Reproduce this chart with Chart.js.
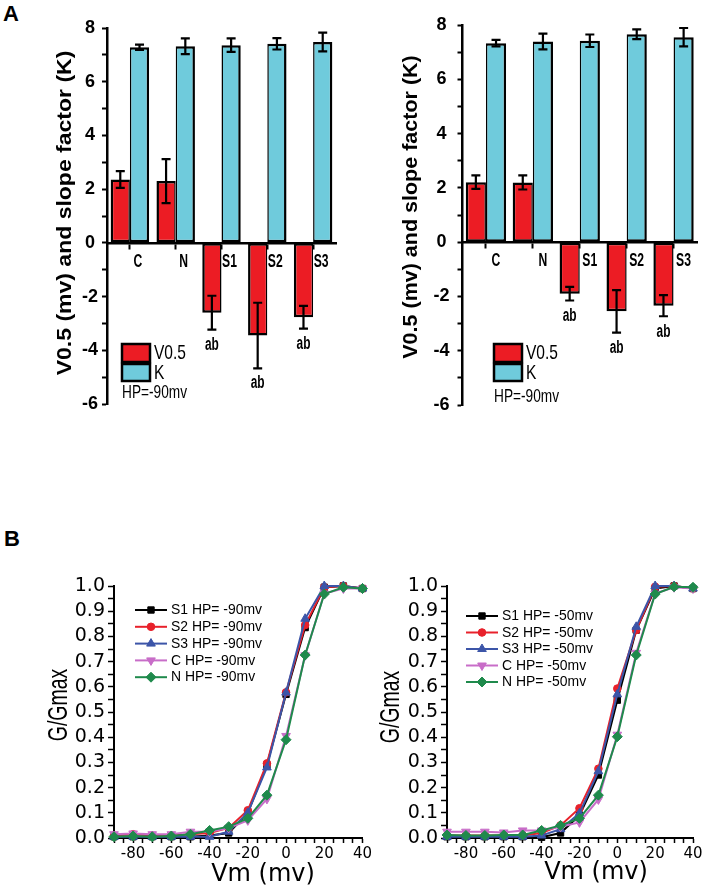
<!DOCTYPE html>
<html><head><meta charset="utf-8">
<script src="https://cdn.jsdelivr.net/npm/chart.js@4.4.1/dist/chart.umd.min.js"></script>
<style>
html,body{margin:0;padding:0;background:#fff;}
#wrap{position:relative;width:705px;height:894px;overflow:hidden;background:#fff;}
canvas{position:absolute;}
.pl{position:absolute;font:bold 22px "Liberation Sans",Arial,sans-serif;line-height:1;color:#000;}
</style></head><body>
<div id="wrap">
<div class="pl" style="left:3px;top:3px">A</div>
<div class="pl" style="left:4px;top:528px">B</div>
<canvas id="a1" width="355" height="460" style="left:0;top:0"></canvas>
<canvas id="a2" width="350" height="460" style="left:355px;top:0"></canvas>
<canvas id="b1" width="375" height="334" style="left:0;top:560px"></canvas>
<canvas id="b2" width="333" height="334" style="left:372px;top:560px"></canvas>
</div>
<script>
// ---------- DATA ----------
const groups = ['C', 'N', 'S1', 'S2', 'S3'];
const sigMarks = ['', '', 'ab', 'ab', 'ab'];

// Panel A, left
const leftV05 = [2.36, 2.30, -2.60, -3.45, -2.77];
const leftV05Err = [0.31, 0.82, 0.63, 1.22, 0.42];
const leftK = [7.28, 7.32, 7.36, 7.41, 7.48];
const leftKErr = [0.10, 0.29, 0.25, 0.21, 0.35];

// Panel A, right
const rightV05 = [2.21, 2.20, -1.90, -2.55, -2.34];
const rightV05Err = [0.25, 0.26, 0.25, 0.78, 0.39];
const rightK = [7.33, 7.39, 7.42, 7.66, 7.55];
const rightKErr = [0.12, 0.29, 0.23, 0.18, 0.34];

const yTicksA = [-6, -4, -2, 0, 2, 4, 6, 8];

// Panel B
const voltages = [-90, -80, -70, -60, -50, -40, -30, -20, -10, 0, 10, 20, 30, 40];
const xTickLabelsB = [-80, -60, -40, -20, 0, 20, 40];

// HP = -90 mV
const hp90S1 = [0.005, 0.005, 0.005, 0.005, 0.005, 0.01, 0.02, 0.10, 0.29, 0.57, 0.835, 0.995, 1.0, 0.99];
const hp90S2 = [0.01, 0.015, 0.01, 0.01, 0.015, 0.02, 0.04, 0.11, 0.296, 0.578, 0.845, 0.995, 1.0, 0.99];
const hp90S3 = [0.005, 0.005, 0.005, 0.005, 0.005, 0.005, 0.025, 0.10, 0.28, 0.577, 0.87, 1.0, 1.0, 0.99];
const hp90C  = [0.015, 0.018, 0.015, 0.015, 0.025, 0.025, 0.04, 0.07, 0.155, 0.405, 0.725, 0.97, 0.99, 0.99];
const hp90N  = [0.005, 0.008, 0.005, 0.008, 0.015, 0.03, 0.045, 0.078, 0.17, 0.39, 0.726, 0.968, 0.995, 0.99];

// HP = -50 mV
const hp50S1 = [0.005, 0.005, 0.005, 0.005, 0.005, 0.003, 0.02, 0.09, 0.25, 0.547, 0.825, 0.99, 1.0, 0.99];
const hp50S2 = [0.01, 0.01, 0.01, 0.01, 0.01, 0.02, 0.05, 0.118, 0.275, 0.593, 0.825, 0.997, 1.0, 0.99];
const hp50S3 = [0.005, 0.005, 0.005, 0.005, 0.005, 0.01, 0.035, 0.098, 0.265, 0.57, 0.838, 1.0, 1.0, 0.99];
const hp50C  = [0.025, 0.025, 0.025, 0.022, 0.03, 0.03, 0.045, 0.062, 0.153, 0.41, 0.735, 0.97, 0.995, 0.99];
const hp50N  = [0.012, 0.01, 0.01, 0.012, 0.012, 0.03, 0.05, 0.078, 0.17, 0.402, 0.726, 0.968, 0.997, 0.995];

// ---------- STYLE ----------
const FONT = '"Liberation Sans", Arial, Helvetica, sans-serif';
const DJ = '"DejaVu Sans", Verdana, sans-serif';
const RED = '#ec1c24';
const CYAN = '#6fcbdc';
Chart.defaults.font.family = FONT;
Chart.defaults.color = '#000';

function txt(ctx, s, x, y, o) {
  ctx.save();
  ctx.translate(x, y);
  if (o.rot) ctx.rotate(o.rot);
  ctx.scale(o.sx || 1, o.sy || 1);
  ctx.font = o.font;
  ctx.fillStyle = o.color || '#000';
  ctx.textAlign = o.align || 'center';
  ctx.textBaseline = o.base || 'middle';
  ctx.fillText(s, 0, 0);
  ctx.restore();
}

function makeBar(id, v05, v05e, k, ke, L) {
  const decor = {
    id: 'decor',
    afterDatasetsDraw(chart) {
      const ctx = chart.ctx, ys = chart.scales.y, xs = chart.scales.x;
      // error bars
      chart.data.datasets.forEach((ds, di) => {
        const meta = chart.getDatasetMeta(di);
        meta.data.forEach((bar, i) => {
          const v = ds.data[i], e = ds.errors[i];
          const y1 = ys.getPixelForValue(v + e), y2 = ys.getPixelForValue(v - e);
          ctx.save();
          ctx.strokeStyle = '#000'; ctx.lineWidth = 2.2;
          ctx.beginPath();
          ctx.moveTo(bar.x, y1); ctx.lineTo(bar.x, y2);
          ctx.moveTo(bar.x - 4.5, y1); ctx.lineTo(bar.x + 4.5, y1);
          ctx.moveTo(bar.x - 4.5, y2); ctx.lineTo(bar.x + 4.5, y2);
          ctx.stroke();
          ctx.restore();
        });
      });
      // significance marks
      const m0 = chart.getDatasetMeta(0);
      sigMarks.forEach((s, i) => {
        if (!s) return;
        const v = v05[i], e = v05e[i];
        const y = ys.getPixelForValue(v - e) + L.sigGap;
        txt(ctx, s, m0.data[i].x, y, {font: 'bold 18px ' + FONT, sx: 0.66});
      });
      // category labels
      const y0 = ys.getPixelForValue(0);
      groups.forEach((g, i) => {
        txt(ctx, g, xs.getPixelForValue(i) + L.labOff, y0 + 19, {font: 'bold 19px ' + FONT, sx: 0.64});
      });
      // legend
      const lg = L.legend;
      ctx.save();
      ctx.lineWidth = 2.5; ctx.strokeStyle = '#000';
      ctx.fillStyle = RED; ctx.fillRect(lg.x + 1, lg.y + 1, 28, 18); ctx.strokeRect(lg.x + 1, lg.y + 1, 28, 18);
      ctx.fillStyle = CYAN; ctx.fillRect(lg.x + 1, lg.y + 21, 28, 17); ctx.strokeRect(lg.x + 1, lg.y + 21, 28, 17);
      ctx.restore();
      txt(ctx, 'V0.5', lg.x + 33, lg.y + 10, {font: '21px ' + FONT, sx: 0.74, align: 'left'});
      txt(ctx, 'K', lg.x + 33, lg.y + 30, {font: '21px ' + FONT, sx: 0.74, align: 'left'});
      txt(ctx, 'HP=-90mv', lg.x + 1, lg.y + lg.hpDy, {font: '19px ' + FONT, sx: 0.72, align: 'left'});
      // y title
      txt(ctx, 'V0.5 (mv) and slope factor (K)', L.title.x, L.title.y,
          {font: 'bold ' + L.title.size + 'px ' + FONT, rot: -Math.PI / 2, sy: 0.9});
    }
  };
  return new Chart(document.getElementById(id), {
    type: 'bar',
    data: {
      labels: groups,
      datasets: [
        {label: 'V0.5', data: v05, errors: v05e, backgroundColor: RED, borderColor: '#000',
         borderWidth: {top: 2.5, bottom: 2.5, left: 2.5, right: 1.5}, borderSkipped: false,
         categoryPercentage: L.cat, barPercentage: 1},
        {label: 'K', data: k, errors: ke, backgroundColor: CYAN, borderColor: '#000',
         borderWidth: {top: 2.5, bottom: 2.5, left: 1.5, right: 2.5}, borderSkipped: false,
         categoryPercentage: L.cat, barPercentage: 1}
      ]
    },
    options: {
      responsive: false, animation: false, devicePixelRatio: 1,
      layout: {padding: L.pad},
      plugins: {legend: {display: false}, tooltip: {enabled: false}},
      scales: {
        x: {
          position: {y: 0}, offset: true,
          grid: {drawOnChartArea: false, offset: false, drawTicks: true, tickLength: 5, tickColor: '#000', tickWidth: 2},
          border: {display: true, color: '#000', width: 2.5},
          ticks: {display: false}
        },
        y: {
          min: -6, max: 8,
          afterFit(s) { s.width = L.yw; },
          grid: {drawOnChartArea: false, tickLength: 5, tickColor: '#000', tickWidth: 2},
          border: {color: '#000', width: 2.5},
          ticks: {stepSize: 1, autoSkip: false, crossAlign: 'center', padding: L.ypad,
                  font: {size: 18, weight: 'bold'}, color: '#000',
                  callback: v => yTicksA.includes(v) ? String(v) : ''}
        }
      }
    },
    plugins: [decor]
  });
}

makeBar('a1', leftV05, leftV05Err, leftK, leftKErr, {
  pad: {top: 28, bottom: 56, left: 0, right: 19}, yw: 107, ypad: 4, cat: 0.84,
  sigGap: 15, labOff: 8,
  legend: {x: 121, y: 343, hpDy: 50},
  title: {x: 65, y: 213, size: 23}
});
makeBar('a2', rightV05, rightV05Err, rightK, rightKErr, {
  pad: {top: 25, bottom: 55, left: 0, right: 8}, yw: 107.5, ypad: 8, cat: 0.86,
  sigGap: 16, labOff: 10,
  legend: {x: 138, y: 343, hpDy: 54},
  title: {x: 57, y: 207, size: 21.5}
});

// ---------- PANEL B ----------
function drawMarker(ctx, style, r, rot, x, y) {
  if (Chart.helpers && Chart.helpers.drawPoint) {
    Chart.helpers.drawPoint(ctx, {pointStyle: style, radius: r, rotation: rot, borderWidth: 1}, x, y);
    return;
  }
  ctx.beginPath(); ctx.arc(x, y, r, 0, Math.PI * 2); ctx.fill();
}

function makeLine(id, series, hp, L) {
  const specs = [
    {name: 'S1', data: series[0], color: '#000000', style: 'rect', r: 4.5, rot: 0, order: 4},
    {name: 'S2', data: series[1], color: '#e8212b', style: 'circle', r: 3.8, rot: 0, order: 3},
    {name: 'S3', data: series[2], color: '#3c55a8', style: 'triangle', r: 5, rot: 0, order: 2},
    {name: 'C', data: series[3], color: '#c86dc8', style: 'triangle', r: 5, rot: 180, order: 1},
    {name: 'N', data: series[4], color: '#1f8a4c', style: 'rectRot', r: 5, rot: 0, order: 0}
  ];
  const datasets = specs.map(s => ({
    label: s.name + ' HP= ' + hp,
    data: voltages.map((v, i) => ({x: v, y: s.data[i]})),
    borderColor: s.color, backgroundColor: s.color,
    pointBackgroundColor: s.color, pointBorderColor: s.color,
    pointStyle: s.style, pointRadius: s.r, pointRotation: s.rot,
    borderWidth: 2, pointBorderWidth: 1, tension: 0, clip: false, order: s.order
  }));
  const decor = {
    id: 'decorB',
    afterDraw(chart) {
      const ctx = chart.ctx;
      specs.forEach((s, i) => {
        const y = L.leg.y + i * L.leg.dy;
        ctx.save();
        ctx.strokeStyle = s.color; ctx.lineWidth = 2;
        ctx.beginPath(); ctx.moveTo(L.leg.x, y); ctx.lineTo(L.leg.x + 32, y); ctx.stroke();
        ctx.fillStyle = s.color; ctx.strokeStyle = s.color; ctx.lineWidth = 1;
        drawMarker(ctx, s.style, s.r, s.rot, L.leg.x + 16, y);
        ctx.restore();
        txt(ctx, chart.data.datasets[i].label, L.leg.x + 36, y, {font: '15px ' + FONT, sx: 0.93, align: 'left'});
      });
      txt(ctx, 'G/Gmax', L.yt.x, L.yt.y, {font: '27px ' + FONT, rot: -Math.PI / 2, sx: 0.72});
      txt(ctx, 'Vm (mv)', L.xt.x, L.xt.y, {font: '24px ' + DJ});
    }
  };
  return new Chart(document.getElementById(id), {
    type: 'line',
    data: {datasets},
    options: {
      responsive: false, animation: false, devicePixelRatio: 1,
      layout: {padding: L.pad},
      plugins: {legend: {display: false}, tooltip: {enabled: false}},
      scales: {
        x: {
          type: 'linear', min: -90, max: 40,
          afterFit(s) { s.height = L.xh; },
          grid: {drawOnChartArea: false, tickLength: 5, tickColor: '#000', tickWidth: 1.5},
          border: {color: '#000', width: 2},
          ticks: {stepSize: 5, autoSkip: false, maxRotation: 0, padding: 2,
                  font: {family: DJ, size: 15}, color: '#000',
                  callback: v => xTickLabelsB.includes(v) ? String(v) : ''}
        },
        y: {
          min: 0, max: 1,
          afterFit(s) { s.width = L.yw; },
          grid: {drawOnChartArea: false, tickLength: 6, tickColor: '#000', tickWidth: 1.5},
          border: {color: '#000', width: 2},
          ticks: {stepSize: 0.05, autoSkip: false, padding: 3,
                  font: {family: DJ, size: 19}, color: '#000',
                  callback: v => Math.abs(v * 10 - Math.round(v * 10)) < 1e-6 ? v.toFixed(1) : ''}
        }
      }
    },
    plugins: [decor]
  });
}

makeLine('b1', [hp90S1, hp90S2, hp90S3, hp90C, hp90N], '-90mv', {
  pad: {top: 26, bottom: 0, left: 0, right: 12.5}, yw: 114, xh: 56,
  leg: {x: 135, y: 50, dy: 16.8},
  yt: {x: 60, y: 145}, xt: {x: 263, y: 315}
});
makeLine('b2', [hp50S1, hp50S2, hp50S3, hp50C, hp50N], '-50mv', {
  pad: {top: 26, bottom: 0, left: 0, right: 12}, yw: 75, xh: 56,
  leg: {x: 94, y: 56, dy: 16.5},
  yt: {x: 20, y: 147}, xt: {x: 224, y: 313}
});
</script>
</body></html>
